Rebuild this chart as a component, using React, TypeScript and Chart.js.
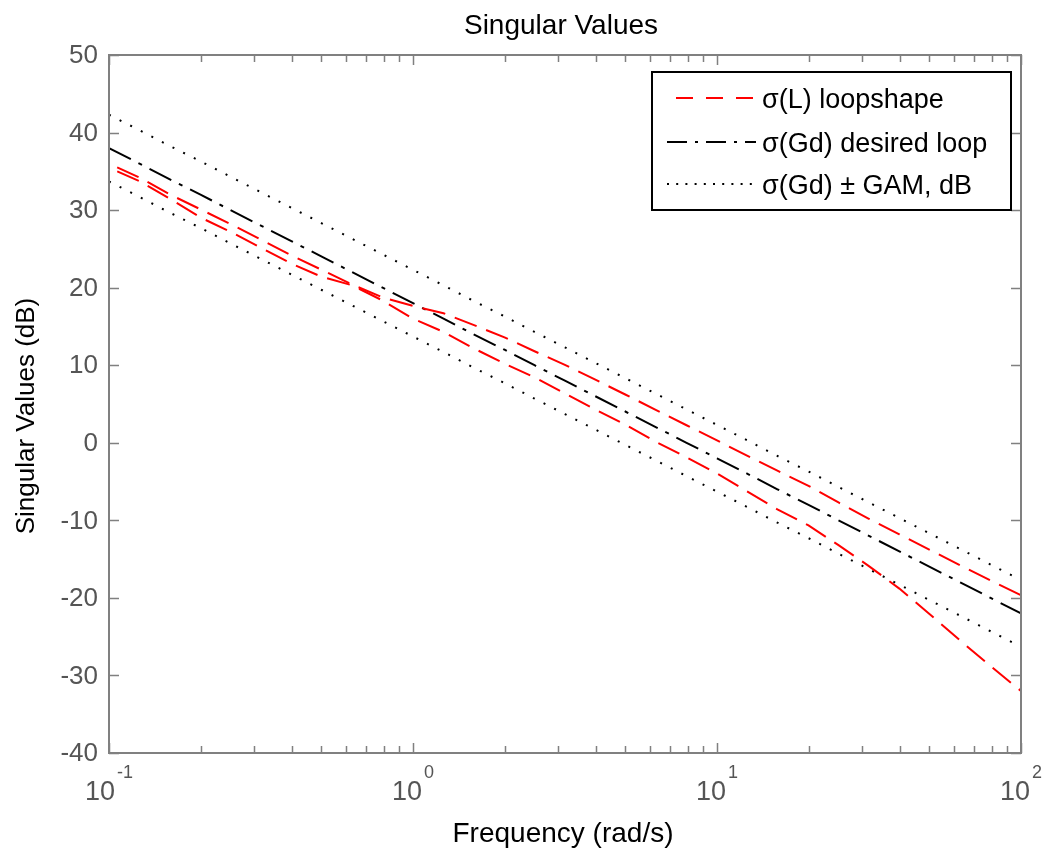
import React, { useEffect, useRef } from 'react';
import { Chart, registerables } from 'chart.js';

Chart.register(...registerables);

// Frequencies (rad/s), log spaced, read along the x axis
const freqs = [0.1, 0.126, 0.158, 0.2, 0.251, 0.316, 0.398, 0.501, 0.631, 0.794, 1, 1.26, 1.58, 2, 2.51, 3.16, 3.98, 5.01, 6.31, 7.94, 10, 12.6, 15.8, 20, 25.1, 31.6, 39.8, 50.1, 63.1, 79.4, 100];

// σ(L) loopshape – two singular values (dB)
const sigmaLUpper = [36.0, 34.2, 32.05, 30.1, 28.2, 26.2, 24.15, 22.3, 20.4, 18.75, 17.65, 16.7, 15.2, 13.6, 11.8, 10.05, 8.13, 6.19, 4.22, 2.26, 0.3, -1.7, -3.6, -5.55, -7.7, -9.8, -11.8, -13.8, -15.8, -17.75, -19.65];
const sigmaLLower = [35.45, 33.74, 31.5, 29.05, 27.2, 25.15, 23.1, 21.4, 20.3, 18.35, 16.0, 14.3, 12.2, 10.2, 8.45, 6.35, 4.28, 2.3, 0.1, -1.87, -3.95, -6.3, -8.58, -10.66, -13.2, -15.9, -18.8, -22.1, -25.5, -28.8, -32.0];

// σ(Gd) desired loop (dB)
const sigmaGd = [38, 36, 34, 32, 30, 28, 26, 24, 22, 20, 18, 16, 14, 12, 10, 8, 6, 4, 2, 0, -2, -4, -6, -8, -10, -12, -14, -16, -18, -20, -22];

// σ(Gd) ± GAM (dB)
const gdPlusGam = [42.3, 40.3, 38.3, 36.3, 34.3, 32.3, 30.3, 28.3, 26.3, 24.3, 22.3, 20.3, 18.3, 16.3, 14.3, 12.3, 10.3, 8.3, 6.3, 4.3, 2.3, 0.3, -1.7, -3.7, -5.7, -7.7, -9.7, -11.7, -13.7, -15.7, -17.7];
const gdMinusGam = [33.7, 31.7, 29.7, 27.7, 25.7, 23.7, 21.7, 19.7, 17.7, 15.7, 13.7, 11.7, 9.7, 7.7, 5.7, 3.7, 1.7, -0.3, -2.3, -4.3, -6.3, -8.3, -10.3, -12.3, -14.3, -16.3, -18.3, -20.3, -22.3, -24.3, -26.3];

// Axis ticks
const yTicks = [-40, -30, -20, -10, 0, 10, 20, 30, 40, 50];
const xDecades = [0.1, 1, 10, 100];
const xExponents = ['-1', '0', '1', '2'];

const titleText = 'Singular Values';
const xLabelText = 'Frequency (rad/s)';
const yLabelText = 'Singular Values (dB)';
const legendLabels = ['σ(L) loopshape', 'σ(Gd) desired loop', 'σ(Gd) ± GAM, dB'];

const FONT = '"Liberation Sans", Arial, sans-serif';
const AXIS_COLOR = '#808080';
const TICK_TEXT = '#555555';

const pts = (ys: number[]) => freqs.map((f, i) => ({ x: f, y: ys[i] }));

const RED_DASH = [23.5, 10.2];
const DASHDOT = [24.5, 8.5, 4, 8.5];
const DOT = [2, 9.9];

const matlabPlugin = {
  id: 'matlabDecor',
  afterDraw(chart: any) {
    const ctx: CanvasRenderingContext2D = chart.ctx;
    const xs = chart.scales.x;
    const ys = chart.scales.y;
    const { left, right, top, bottom } = chart.chartArea;
    ctx.save();

    // axes box
    ctx.strokeStyle = AXIS_COLOR;
    ctx.lineWidth = 2;
    ctx.setLineDash([]);
    ctx.strokeRect(left, top, right - left, bottom - top);

    // y ticks
    ctx.lineWidth = 1.5;
    ctx.beginPath();
    yTicks.forEach((v) => {
      const py = Math.round(ys.getPixelForValue(v)) + 0.5;
      ctx.moveTo(left, py); ctx.lineTo(left + 10, py);
      ctx.moveTo(right, py); ctx.lineTo(right - 10, py);
    });
    // x ticks
    xDecades.forEach((d, i) => {
      const px = Math.round(xs.getPixelForValue(d)) + 0.5;
      ctx.moveTo(px, bottom); ctx.lineTo(px, bottom - 10);
      ctx.moveTo(px, top); ctx.lineTo(px, top + 10);
      if (i < xDecades.length - 1) {
        for (let k = 2; k <= 9; k++) {
          const mx = Math.round(xs.getPixelForValue(d * k)) + 0.5;
          ctx.moveTo(mx, bottom); ctx.lineTo(mx, bottom - 7);
          ctx.moveTo(mx, top); ctx.lineTo(mx, top + 7);
        }
      }
    });
    ctx.stroke();

    // y tick labels
    ctx.fillStyle = TICK_TEXT;
    ctx.font = `26px ${FONT}`;
    ctx.textAlign = 'right';
    ctx.textBaseline = 'middle';
    yTicks.forEach((v) => {
      ctx.fillText(String(v), left - 11, ys.getPixelForValue(v) + 1);
    });

    // x tick labels 10^n
    ctx.textBaseline = 'alphabetic';
    ctx.textAlign = 'left';
    xDecades.forEach((d, i) => {
      const px = xs.getPixelForValue(d);
      ctx.font = `27px ${FONT}`;
      const wb = ctx.measureText('10').width;
      ctx.font = `18px ${FONT}`;
      const we = ctx.measureText(xExponents[i]).width;
      const start = px - (wb + 2 + we) / 2;
      ctx.font = `27px ${FONT}`;
      ctx.fillText('10', start, bottom + 47);
      ctx.font = `18px ${FONT}`;
      ctx.fillText(xExponents[i], start + wb + 2, bottom + 25);
    });

    // title and axis labels
    ctx.fillStyle = '#000';
    ctx.font = `28px ${FONT}`;
    ctx.textAlign = 'center';
    ctx.fillText(titleText, 561, 34);
    ctx.fillText(xLabelText, 563, 842);
    ctx.save();
    ctx.translate(34, 416);
    ctx.rotate(-Math.PI / 2);
    ctx.font = `26px ${FONT}`;
    ctx.fillText(yLabelText, 0, 0);
    ctx.restore();

    // legend
    const lx0 = 652, ly0 = 72, lx1 = 1011, ly1 = 210;
    ctx.fillStyle = '#fff';
    ctx.fillRect(lx0, ly0, lx1 - lx0, ly1 - ly0);
    ctx.strokeStyle = '#000';
    ctx.lineWidth = 2;
    ctx.setLineDash([]);
    ctx.strokeRect(lx0, ly0, lx1 - lx0, ly1 - ly0);

    const rows = [
      { y: 98, color: '#ff0000', dash: [17, 13], offset: 21 },
      { y: 142, color: '#000', dash: [20, 8, 3, 8], offset: 0 },
      { y: 184, color: '#000', dash: [2, 7.2], offset: 0 },
    ];
    rows.forEach((r, i) => {
      ctx.strokeStyle = r.color;
      ctx.lineWidth = 2;
      ctx.setLineDash(r.dash);
      ctx.lineDashOffset = r.offset;
      ctx.beginPath();
      ctx.moveTo(667, r.y);
      ctx.lineTo(756, r.y);
      ctx.stroke();
      ctx.setLineDash([]);
      ctx.lineDashOffset = 0;
      ctx.fillStyle = '#000';
      ctx.font = `27px ${FONT}`;
      ctx.textAlign = 'left';
      ctx.textBaseline = 'middle';
      ctx.fillText(legendLabels[i], 762, r.y + 3);
    });

    ctx.restore();
  },
};

export default function App() {
  const canvasRef = useRef<HTMLCanvasElement | null>(null);

  useEffect(() => {
    const canvas = canvasRef.current;
    if (!canvas) return;
    const common = { fill: false, pointRadius: 0, tension: 0, borderCapStyle: 'butt' as const };
    const chart = new Chart(canvas, {
      type: 'line',
      data: {
        datasets: [
          { ...common, label: 'σ(L) loopshape', data: pts(sigmaLUpper), borderColor: '#ff0000', borderWidth: 2, borderDash: RED_DASH, borderDashOffset: 24.7 },
          { ...common, label: 'σ(L) loopshape 2', data: pts(sigmaLLower), borderColor: '#ff0000', borderWidth: 2, borderDash: RED_DASH, borderDashOffset: 24.7 },
          { ...common, label: 'σ(Gd) desired loop', data: pts(sigmaGd), borderColor: '#000', borderWidth: 2, borderDash: DASHDOT },
          { ...common, label: 'σ(Gd) + GAM', data: pts(gdPlusGam), borderColor: '#000', borderWidth: 2, borderDash: DOT },
          { ...common, label: 'σ(Gd) - GAM', data: pts(gdMinusGam), borderColor: '#000', borderWidth: 2, borderDash: DOT },
        ],
      },
      options: {
        responsive: false,
        animation: false,
        events: [],
        layout: { padding: { left: 109, top: 55, right: 22, bottom: 97 } },
        plugins: { legend: { display: false }, title: { display: false }, tooltip: { enabled: false } },
        scales: {
          x: { type: 'logarithmic', min: 0.1, max: 100, display: false },
          y: { type: 'linear', min: -40, max: 50, display: false },
        },
      },
      plugins: [matlabPlugin],
    });
    return () => chart.destroy();
  }, []);

  return (
    <div style={{ position: 'fixed', left: 0, top: 0, width: 1043, height: 850, background: '#fff' }}>
      <canvas ref={canvasRef} width={1043} height={850} style={{ width: 1043, height: 850 }} />
    </div>
  );
}
